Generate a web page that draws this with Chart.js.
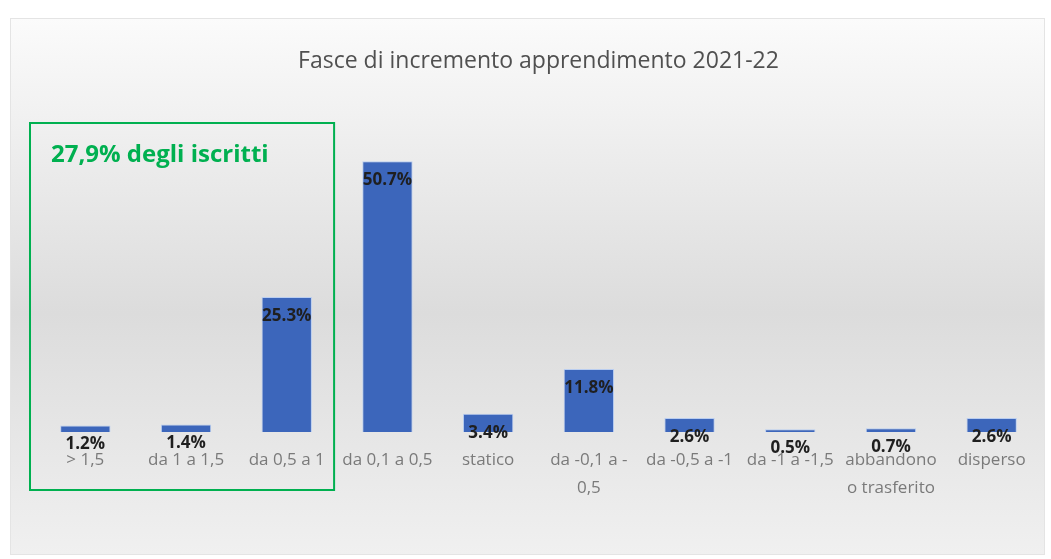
<!DOCTYPE html>
<html lang="it">
<head>
<meta charset="UTF-8">
<title>Fasce di incremento apprendimento 2021-22</title>
<script src="https://cdn.jsdelivr.net/npm/chart.js"></script>
<style>
    html, body { margin: 0; padding: 0; background: #ffffff; }
    #wrap { width: 1051px; height: 559px; position: relative; }
</style>
</head>
<body>
<div id="wrap"><canvas id="myBarChart" width="1051" height="559"></canvas></div>
<script>
// dati
var categories = [
    '> 1,5', 'da 1 a 1,5', 'da 0,5 a 1', 'da 0,1 a 0,5', 'statico',
    ['da -0,1 a -', '0,5'], 'da -0,5 a -1', 'da -1 a -1,5',
    ['abbandono', 'o trasferito'], 'disperso'
];
var percentages = [1.2, 1.4, 25.3, 50.7, 3.4, 11.8, 2.6, 0.5, 0.7, 2.6];
var chartTitle = 'Fasce di incremento apprendimento 2021-22';
var noteText = '27,9% degli iscritti';

var fontFamily = '"Open Sans", sans-serif';

// sfondo del pannello con sfumatura grigia
var panelBackground = {
    id: 'panelBackground',
    beforeDraw: function (chart) {
        var ctx = chart.ctx;
        ctx.save();
        var g = ctx.createLinearGradient(0, 18, 0, 555);
        g.addColorStop(0, '#fbfbfb');
        g.addColorStop(0.55, '#dcdcdc');
        g.addColorStop(1, '#f0f0f0');
        ctx.fillStyle = g;
        ctx.fillRect(10, 18, 1035, 537);
        ctx.strokeStyle = '#e4e4e4';
        ctx.lineWidth = 1;
        ctx.strokeRect(10.5, 18.5, 1034, 536);
        ctx.restore();
    }
};

// etichette percentuali sulle barre
var valueLabels = {
    id: 'valueLabels',
    afterDatasetsDraw: function (chart) {
        var ctx = chart.ctx;
        var meta = chart.getDatasetMeta(0);
        ctx.save();
        ctx.font = 'bold 17px ' + fontFamily;
        ctx.fillStyle = '#1f1f1f';
        ctx.textAlign = 'center';
        ctx.textBaseline = 'middle';
        meta.data.forEach(function (bar, i) {
            ctx.fillText(percentages[i].toFixed(1) + '%', bar.x, bar.y + 19);
        });
        ctx.restore();
    }
};

// riquadro verde con nota
var noteBox = {
    id: 'noteBox',
    afterDraw: function (chart) {
        var ctx = chart.ctx;
        var x = chart.scales.x;
        var half = (x.getPixelForValue(1) - x.getPixelForValue(0)) / 2;
        var left = x.getPixelForValue(0) - half - 5;
        var right = x.getPixelForValue(2) + half - 3;
        ctx.save();
        ctx.strokeStyle = '#00b050';
        ctx.lineWidth = 2;
        ctx.strokeRect(left, 123, right - left, 367);
        ctx.fillStyle = '#00b050';
        ctx.font = 'bold 24px "Open Sans", sans-serif';
        ctx.textBaseline = 'middle';
        ctx.fillText(noteText, left + 21, 155);
        ctx.restore();
    }
};

var ctxBar = document.getElementById('myBarChart').getContext('2d');
var myBarChart = new Chart(ctxBar, {
    type: 'bar',
    data: {
        labels: categories,
        datasets: [{
            data: percentages,
            backgroundColor: '#3c66bb',
            borderColor: '#b9cdf0',
            borderWidth: 1,
            categoryPercentage: 1,
            barPercentage: 0.5
        }]
    },
    options: {
        responsive: false,
        animation: false,
        layout: { padding: { left: 35, right: 9, top: 0, bottom: 0 } },
        plugins: {
            legend: { display: false },
            tooltip: { enabled: false },
            title: {
                display: true,
                text: chartTitle,
                color: '#505050',
                font: { family: fontFamily, size: 23, weight: 'normal' },
                padding: { top: 48, bottom: 36 }
            }
        },
        scales: {
            y: {
                display: false,
                min: 0,
                max: 60
            },
            x: {
                grid: { display: false },
                border: { display: false },
                afterFit: function (scale) { scale.height = 127; },
                ticks: {
                    autoSkip: false,
                    maxRotation: 0,
                    padding: 7,
                    color: '#7a7a7a',
                    font: { family: fontFamily, size: 17, lineHeight: 1.6 }
                }
            }
        }
    },
    plugins: [panelBackground, valueLabels, noteBox]
});
</script>
</body>
</html>
